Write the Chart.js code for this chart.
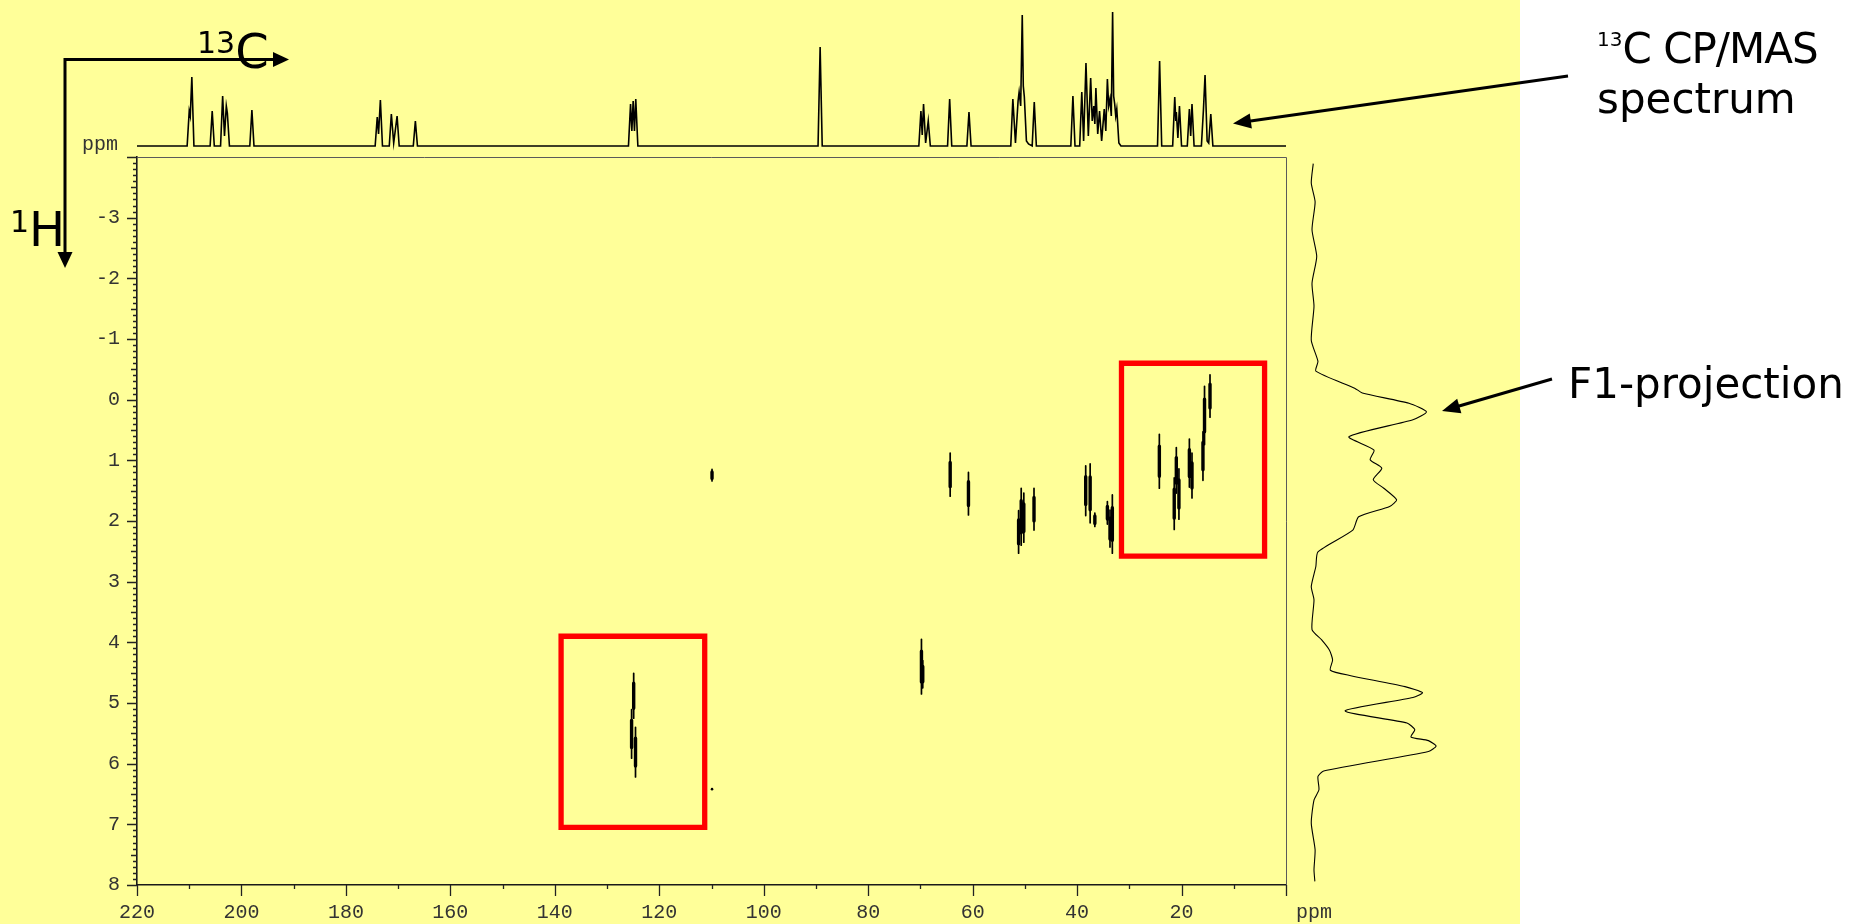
<!DOCTYPE html>
<html>
<head>
<meta charset="utf-8">
<title>13C-1H HETCOR</title>
<script src="https://cdn.jsdelivr.net/npm/chart.js@4.4.1/dist/chart.umd.min.js"></script>
<style>
  html, body { margin: 0; padding: 0; background: #ffffff; }
  #stage { position: relative; width: 1858px; height: 924px; overflow: hidden; background: #ffffff; }
  #panel { position: absolute; left: 0; top: 0; width: 1520px; height: 924px; background: #ffff99; }
  canvas { position: absolute; }
  .lbl { position: absolute; font-family: "DejaVu Sans", Verdana, sans-serif; color: #000; white-space: nowrap; }
  .mono { position: absolute; font-family: "Liberation Mono", "Courier New", monospace; font-size: 20px; line-height: 20px; color: #333; }
  .sup { line-height: 0; }
</style>
</head>
<body>
<div id="stage">
  <div id="panel"></div>
  <canvas id="map" width="1858" height="924" style="left:0;top:0"></canvas>
  <canvas id="cpmas" width="1300" height="157" style="left:0;top:0"></canvas>
  <canvas id="f1" width="190" height="728" style="left:1290px;top:157px"></canvas>

  <div class="lbl" style="left:197px;top:27px;font-size:48px;line-height:48px"><span class="sup" style="font-size:30px;vertical-align:15px">13</span>C</div>
  <div class="lbl" style="left:10px;top:205px;font-size:48px;line-height:48px"><span class="sup" style="font-size:30px;vertical-align:14px">1</span>H</div>
  <div class="lbl" style="left:1597px;top:24px;font-size:42px;line-height:50px"><span class="sup" style="font-size:20px;vertical-align:17px">13</span><span style="letter-spacing:-1px">C CP/MAS</span><br>spectrum</div>
  <div class="lbl" style="left:1568px;top:363px;font-size:42px;line-height:42px">F1-projection</div>
  <div class="mono" style="left:82px;top:135px">ppm</div>
  <div class="mono" style="left:1296px;top:903px">ppm</div>
</div>

<script>
// ---------------- axis labels ----------------
const carbonTickLabels = [220, 200, 180, 160, 140, 120, 100, 80, 60, 40, 20];
const protonTickLabels = [-3, -2, -1, 0, 1, 2, 3, 4, 5, 6, 7, 8];

// ---------------- 13C CP/MAS trace (shift in ppm, intensity in a.u.) ----------------
const cpmasShift = [
  220, 210.4, 210.0, 209.8, 209.5, 209.1,
  206.0, 205.6, 205.2,
  204.0, 203.6, 203.25, 202.9, 202.7, 202.3,
  198.4, 198.0, 197.6,
  174.4, 174.0, 173.75, 173.4, 173.0,
  171.7, 171.3, 170.85, 170.2, 169.8,
  167.1, 166.7, 166.3,
  125.9, 125.5, 125.25, 125.0, 124.75, 124.5, 124.1,
  89.6, 89.2, 88.8,
  70.3, 69.9, 69.65, 69.4, 69.0, 68.5, 68.1,
  64.8, 64.4, 64.0,
  61.1, 60.7, 60.3,
  52.7, 52.3, 51.8, 51.3, 51.1, 50.8, 50.5, 50.3, 50.1, 49.7, 49.3,
  48.6, 48.2, 47.8,
  41.2, 40.8, 40.4,
  39.5, 39.1, 38.75, 38.3, 37.85, 37.4, 37.1, 36.8, 36.6, 36.4, 36.05, 35.7, 35.3,
  34.8, 34.5, 34.2, 33.95, 33.7, 33.45, 33.2, 33.0, 32.8, 32.6, 32.4, 32.0, 31.6,
  24.6, 24.2, 23.8,
  21.7, 21.3, 21.1, 21.0, 20.7, 20.4, 20.0,
  18.9, 18.5, 18.25, 18.0, 17.6,
  16.2, 15.8, 15.5, 15.1, 14.8, 14.4, 14.0,
  0
];
const cpmasIntensity = [
  0, 0, 35, 30, 69, 0,
  0, 35, 0,
  0, 50, 10, 40, 33, 0,
  0, 36, 0,
  0, 29, 12, 46, 0,
  0, 32, 3, 30, 0,
  0, 25, 0,
  0, 42, 15, 45, 15, 47, 0,
  0, 99, 0,
  0, 35, 11, 42, 3, 25, 0,
  0, 47, 0,
  0, 34, 0,
  0, 47, 3, 45, 54, 40, 131, 60, 49, 5, 2,
  0, 44, 0,
  0, 50, 0,
  0, 54, 5, 83, 10, 68, 25, 40, 22, 58, 12, 35, 5,
  37, 15, 67, 40, 47, 30, 134, 50, 42, 30, 37, 3, 0,
  0, 85, 0,
  0, 49, 25, 34, 8, 40, 0,
  0, 37, 10, 42, 0,
  0, 37, 71, 5, 3, 32, 0,
  0
];

// ---------------- F1 (1H) projection (shift in ppm, intensity in a.u.) ----------------
const f1Shift = [
  -3.89, -3.57, -3.26, -2.80, -2.36, -1.92, -1.54, -0.98, -0.63, -0.47,
  -0.19, -0.11, 0.06, 0.20, 0.33, 0.61, 0.83, 0.99, 1.13, 1.32, 1.46, 1.65, 1.76, 1.93, 2.15,
  2.51, 2.75, 3.08, 3.30, 3.79, 3.96, 4.13, 4.29, 4.46, 4.55, 4.73, 4.83, 4.91, 5.13,
  5.33, 5.44, 5.56, 5.62, 5.71, 5.80, 6.12, 6.21, 6.43, 6.60, 6.98, 7.42, 7.75, 7.94
];
const f1Intensity = [
  0.2, -1.4, 1.7, -0.8, 3.0, -0.8, 0.8, -1.4, 4.0, 2.3,
  33.6, 39.8, 77.4, 91.5, 80.6, 29.0, 49.2, 46.1, 55.5, 48.6, 57.1, 67.4, 61.8, 36.8, 32.1,
  4.0, 2.3, -1.4, 0.8, -0.8, 7.0, 13.3, 15.8, 14.0, 30.5, 74.2, 88.3, 80.6, 25.8,
  75.8, 82.1, 79.0, 93.1, 99.3, 93.1, 8.6, 4.0, 4.8, 0.8, -1.4, 1.7, 0.8, 1.5
];

// ---------------- 2D cross peaks: 13C shift and 1H extent of each contour ----------------
const crossCarbon = [64.3, 60.8, 51.2, 50.7, 50.2, 48.25, 38.35, 37.5, 36.6, 34.2, 33.7, 33.25,
                     24.25, 21.4, 21.0, 20.5, 18.5, 18.0, 15.9, 15.6, 14.55,
                     109.9, 124.9, 125.3, 124.55, 69.8, 69.55];
const crossProtonFrom = [0.88, 1.20, 1.83, 1.46, 1.54, 1.46, 1.09, 1.06, 1.87, 1.68, 1.82, 1.57,
                         0.57, 1.29, 0.79, 1.14, 0.65, 0.88, 0.53, -0.22, -0.41,
                         1.15, 4.51, 5.11, 5.40, 3.95, 4.30];
const crossProtonTo = [1.59, 1.90, 2.53, 2.40, 2.35, 2.15, 1.91, 2.03, 2.09, 2.05, 2.43, 2.53,
                       1.46, 2.14, 1.54, 1.97, 1.44, 1.62, 1.33, 0.74, 0.29,
                       1.34, 5.25, 5.91, 6.22, 4.85, 4.75];
const isolatedCarbon = [109.9];
const isolatedProton = [6.42];

// ---------------- highlighted regions ----------------
const regionCarbonFrom = [138.8, 31.5];
const regionCarbonTo = [111.3, 4.1];
const regionProtonFrom = [3.9, -0.6];
const regionProtonTo = [7.05, 2.58];

// ---------------- build datasets ----------------
// each contour: a thin full-length stroke plus a thicker core, giving a lens-like outline
const crossOuter = [];
const crossCore = [];
crossCarbon.forEach((c, i) => {
  const h1 = crossProtonFrom[i], h2 = crossProtonTo[i], cut = 0.22 * (h2 - h1);
  crossOuter.push({ x: c, y: h1 }, { x: c, y: h2 }, { x: c, y: null });
  crossCore.push({ x: c, y: h1 + cut }, { x: c, y: h2 - cut }, { x: c, y: null });
});
const regionOutline = [];
regionCarbonFrom.forEach((c1, i) => {
  const c2 = regionCarbonTo[i], h1 = regionProtonFrom[i], h2 = regionProtonTo[i];
  regionOutline.push({ x: c1, y: h1 }, { x: c2, y: h1 }, { x: c2, y: h2 }, { x: c1, y: h2 }, { x: c1, y: h1 }, { x: c1, y: null });
});
const isolatedPoints = isolatedCarbon.map((c, i) => ({ x: c, y: isolatedProton[i] }));

const PLOT = { left: 137, right: 1286, top: 157, bottom: 885 };

// Tick rulers, plot frame and the pointer arrows
function arrowHead(ctx, x1, y1, x2, y2, len, half) {
  const a = Math.atan2(y2 - y1, x2 - x1);
  const bx = x2 - len * Math.cos(a), by = y2 - len * Math.sin(a);
  ctx.beginPath();
  ctx.moveTo(x2, y2);
  ctx.lineTo(bx + half * Math.sin(a), by - half * Math.cos(a));
  ctx.lineTo(bx - half * Math.sin(a), by + half * Math.cos(a));
  ctx.closePath();
  ctx.fill();
}
function arrowLine(ctx, x1, y1, x2, y2, len, half) {
  const a = Math.atan2(y2 - y1, x2 - x1);
  ctx.beginPath();
  ctx.moveTo(x1, y1);
  ctx.lineTo(x2 - (len - 2) * Math.cos(a), y2 - (len - 2) * Math.sin(a));
  ctx.stroke();
  arrowHead(ctx, x1, y1, x2, y2, len, half);
}

const axisMarks = {
  id: 'axisMarks',
  afterDraw(chart) {
    const { ctx, chartArea: a, scales: { x, y } } = chart;
    ctx.save();
    // upper and right edges of the plot box
    ctx.strokeStyle = '#5a5a5a';
    ctx.lineWidth = 1;
    ctx.beginPath();
    ctx.moveTo(a.left, a.top + 0.5);
    ctx.lineTo(a.right + 0.5, a.top + 0.5);
    ctx.lineTo(a.right + 0.5, a.bottom);
    ctx.stroke();
    // tick rulers
    ctx.strokeStyle = '#222';
    ctx.lineWidth = 1.3;
    ctx.beginPath();
    for (let k = 0; k <= 120; k++) {
      const p = Math.round(y.getPixelForValue(-4 + k / 10)) + 0.5;
      const len = k % 10 === 0 ? 10 : (k % 5 === 0 ? 6 : 4);
      ctx.moveTo(a.left - len, p);
      ctx.lineTo(a.left, p);
    }
    for (let v = 0; v <= 220; v += 10) {
      const p = Math.round(x.getPixelForValue(v)) + 0.5;
      const len = v % 20 === 0 ? 11 : 4;
      ctx.moveTo(p, a.bottom);
      ctx.lineTo(p, a.bottom + len);
    }
    ctx.stroke();
    // axis-direction arrows and pointer arrows
    ctx.strokeStyle = '#000';
    ctx.fillStyle = '#000';
    ctx.lineWidth = 3;
    ctx.lineJoin = 'miter';
    ctx.beginPath();
    ctx.moveTo(65, 254);
    ctx.lineTo(65, 59.5);
    ctx.lineTo(275, 59.5);
    ctx.stroke();
    arrowHead(ctx, 65, 59.5, 289, 59.5, 16, 7.5);
    arrowHead(ctx, 65, 59.5, 65, 268, 16, 7.5);
    arrowLine(ctx, 1568, 76, 1233, 123.5, 18, 7.5);
    arrowLine(ctx, 1552, 379, 1442, 411, 18, 7.5);
    ctx.restore();
  }
};

const monoFont = { family: '"Liberation Mono", "Courier New", monospace', size: 20 };

new Chart(document.getElementById('map'), {
  type: 'line',
  data: {
    datasets: [
      { data: regionOutline, borderColor: '#ff0000', borderWidth: 5.3, borderCapStyle: 'square',
        borderJoinStyle: 'miter', pointRadius: 0, fill: false, tension: 0 },
      { data: crossOuter, borderColor: '#000', borderWidth: 1.7, borderCapStyle: 'round',
        pointRadius: 0, fill: false, tension: 0 },
      { data: crossCore, borderColor: '#000', borderWidth: 3.4, borderCapStyle: 'round',
        pointRadius: 0, fill: false, tension: 0 },
      { data: isolatedPoints, showLine: false, pointRadius: 1.3, pointBackgroundColor: '#000',
        pointBorderWidth: 0 }
    ]
  },
  options: {
    responsive: false,
    animation: false,
    events: [],
    layout: { padding: { left: 0, top: PLOT.top, right: 1858 - PLOT.right, bottom: 0 } },
    plugins: { legend: { display: false }, tooltip: { enabled: false } },
    scales: {
      x: {
        type: 'linear', reverse: true, min: 0, max: 220,
        afterFit: s => { s.height = 924 - PLOT.bottom; },
        grid: { display: false, drawTicks: false },
        border: { display: true, color: '#1a1a1a', width: 1.6 },
        ticks: {
          stepSize: 20, autoSkip: false, maxRotation: 0, padding: 16, color: '#333', font: monoFont,
          callback: v => carbonTickLabels.includes(v) ? String(v) : ''
        }
      },
      y: {
        type: 'linear', reverse: true, min: -4, max: 8,
        afterFit: s => { s.width = PLOT.left; },
        grid: { display: false, drawTicks: false },
        border: { display: true, color: '#1a1a1a', width: 1.6 },
        ticks: {
          stepSize: 1, autoSkip: false, padding: 17, color: '#333', font: monoFont,
          callback: v => protonTickLabels.includes(v) ? String(v) : ''
        }
      }
    }
  },
  plugins: [axisMarks]
});

// 13C CP/MAS trace above the map
new Chart(document.getElementById('cpmas'), {
  type: 'line',
  data: {
    datasets: [{
      data: cpmasShift.map((s, i) => ({ x: s, y: cpmasIntensity[i] })),
      borderColor: '#000', borderWidth: 1.6, pointRadius: 0, tension: 0, fill: false
    }]
  },
  options: {
    responsive: false,
    animation: false,
    events: [],
    layout: { padding: { left: PLOT.left, right: 1300 - PLOT.right, top: 0, bottom: 0 } },
    plugins: { legend: { display: false }, tooltip: { enabled: false } },
    scales: {
      x: { type: 'linear', reverse: true, min: 0, max: 220, display: false },
      y: { type: 'linear', min: -11, max: 146, display: false }
    }
  }
});

// F1 projection to the right of the map
new Chart(document.getElementById('f1'), {
  type: 'line',
  data: {
    datasets: [{
      data: f1Shift.map((s, i) => ({ x: f1Intensity[i], y: s })),
      borderColor: '#000', borderWidth: 1.1, pointRadius: 0, tension: 0.2, fill: false
    }]
  },
  options: {
    responsive: false,
    animation: false,
    events: [],
    layout: { padding: 0 },
    plugins: { legend: { display: false }, tooltip: { enabled: false } },
    scales: {
      x: { type: 'linear', min: -18.55, max: 134.68, display: false },
      y: { type: 'linear', reverse: true, min: -4, max: 8, display: false }
    }
  }
});
</script>
</body>
</html>
